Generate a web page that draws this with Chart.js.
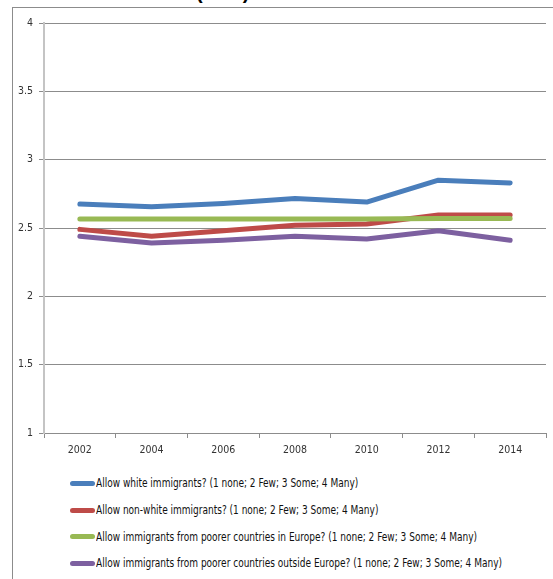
<!DOCTYPE html>
<html>
<head>
<meta charset="utf-8">
<script src="https://cdn.jsdelivr.net/npm/chart.js@4.4.1/dist/chart.umd.min.js"></script>
<style>
  html, body { margin: 0; padding: 0; background: #fff; }
  #wrap { position: relative; width: 553px; height: 579px; overflow: hidden; }
  #frame { position: absolute; left: 12px; top: 7px; width: 600px; height: 600px; border: 1px solid #8c8c8c; box-sizing: border-box; }
  #title { position: absolute; left: 196px; top: -19px; font: bold 20px 'Liberation Sans', Arial, sans-serif; color: #000; }
  #chart { position: absolute; left: 0; top: 0; }
  #legend { position: absolute; left: 70px; top: 470px; font: 12px 'DejaVu Sans Condensed', sans-serif; color: #111; }
  .item { height: 26.7px; display: flex; align-items: center; white-space: nowrap; }
  .swatch { width: 25px; height: 5px; border-radius: 3px; margin-right: 1px; flex: none; }
  .txt { display: inline-block; transform-origin: left center; }
</style>
</head>
<body>
<div id="wrap">
  <div id="title">(ESS)</div>
  <div id="frame"></div>
  <canvas id="chart" width="553" height="470"></canvas>
  <div id="legend"></div>
</div>
<script>
const years = ['2002', '2004', '2006', '2008', '2010', '2012', '2014'];

const white = [2.675, 2.655, 2.68, 2.715, 2.69, 2.85, 2.83];
const nonWhite = [2.49, 2.44, 2.48, 2.52, 2.53, 2.595, 2.595];
const poorerInEurope = [2.565, 2.565, 2.565, 2.565, 2.565, 2.57, 2.57];
const poorerOutsideEurope = [2.44, 2.39, 2.41, 2.44, 2.42, 2.48, 2.41];

const seriesNames = [
    'Allow white immigrants? (1 none; 2 Few; 3 Some; 4 Many)',
    'Allow non-white immigrants? (1 none; 2 Few; 3 Some; 4 Many)',
    'Allow immigrants from poorer countries in Europe? (1 none; 2 Few; 3 Some; 4 Many)',
    'Allow immigrants from poorer countries outside Europe? (1 none; 2 Few; 3 Some; 4 Many)'
];
const seriesColors = ['#4a7ebb', '#be4b48', '#98b954', '#7d60a0'];
const seriesData = [white, nonWhite, poorerInEurope, poorerOutsideEurope];

const tickFont = { family: "'DejaVu Sans Condensed', sans-serif", size: 10.5 };

const datasets = seriesData.map(function (d, i) {
    return {
        label: seriesNames[i],
        data: d,
        borderColor: seriesColors[i],
        backgroundColor: seriesColors[i],
        borderWidth: 5,
        borderCapStyle: 'round',
        borderJoinStyle: 'round',
        pointRadius: 0,
        tension: 0,
        order: 4 - i
    };
});

const ctx = document.getElementById('chart').getContext('2d');
new Chart(ctx, {
    type: 'line',
    data: { labels: years, datasets: datasets },
    options: {
        responsive: false,
        animation: false,
        layout: { padding: { left: 0, right: 7, top: 23, bottom: 7 } },
        plugins: {
            legend: { display: false },
            tooltip: { enabled: false }
        },
        scales: {
            x: {
                offset: true,
                grid: {
                    offset: true,
                    drawOnChartArea: false,
                    drawTicks: true,
                    tickLength: 5,
                    color: '#8c8c8c'
                },
                border: { display: true, color: '#8c8c8c', width: 1 },
                ticks: { font: tickFont, color: '#333', padding: 6, maxRotation: 0 },
                afterFit: function (scale) { scale.height = 30; }
            },
            y: {
                min: 1,
                max: 4,
                ticks: {
                    stepSize: 0.5,
                    font: tickFont,
                    color: '#333',
                    padding: 6,
                    callback: function (v) { return String(Number(v)); }
                },
                grid: { color: '#8c8c8c', tickLength: 5, drawTicks: true },
                border: { display: true, color: '#c4c4c4', width: 2 },
                afterFit: function (scale) { scale.width = 44; }
            }
        }
    }
});

// legend: one row per series, text squeezed to the narrow look of the original
const legend = document.getElementById('legend');
const texts = [];
seriesNames.forEach(function (name, i) {
    const row = document.createElement('div');
    row.className = 'item';
    const sw = document.createElement('span');
    sw.className = 'swatch';
    sw.style.background = seriesColors[i];
    const txt = document.createElement('span');
    txt.className = 'txt';
    txt.textContent = name;
    row.appendChild(sw);
    row.appendChild(txt);
    legend.appendChild(row);
    texts.push(txt);
});
const longest = Math.max.apply(null, texts.map(function (t) { return t.getBoundingClientRect().width; }));
const squeeze = 406 / longest;
texts.forEach(function (t) { t.style.transform = 'scaleX(' + squeeze + ')'; });
</script>
</body>
</html>
